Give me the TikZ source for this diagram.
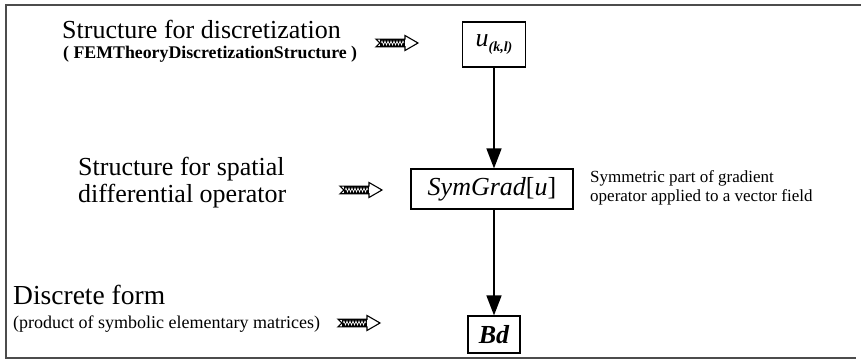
\documentclass[tikz,border=0pt]{standalone}
\usepackage{fontspec}
\setmainfont{Liberation Serif}
\usetikzlibrary{arrows.meta}
\tikzset{
  bigtext/.style={inner sep=0pt, anchor=base west, font=\fontsize{26}{28}\selectfont},
  subtext/.style={inner sep=0pt, anchor=base west, font=\fontsize{18}{20}\selectfont},
  notetext/.style={inner sep=0pt, anchor=base west, font=\fontsize{17}{19}\selectfont},
  exprbox/.style={draw, line width=1.2pt, inner sep=0pt, font=\fontsize{26}{28}\selectfont},
  flow/.style={line width=1.6pt, -{Triangle[length=20pt,width=15pt]}},
  frameline/.style={line width=1.4pt, draw=black!70},
  pics/hatch/.style={code={
    % block arrow with notched tail and a zigzag-filled shaft
    \draw[line width=1.1pt, fill=white, line join=miter]
      (-21,-3.8) -- (8,-3.8) -- (8,-7.5) -- (21,0) -- (8,7.5) -- (8,3.8)
      -- (-21,3.8) -- (-17,0) -- cycle;
    \fill (-17,-3.8) rectangle (8,3.8);
    \draw[white, line width=0.6pt]
      (-16,0) -- (-15,-2) -- (-13.5,2) -- (-12,-2) -- (-10.5,2) -- (-9,-2)
      -- (-7.5,2) -- (-6,-2) -- (-4.5,2) -- (-3,-2) -- (-1.5,2) -- (0,-2)
      -- (1.5,2) -- (3,-2) -- (4.5,2) -- (6,-2) -- (7,0);
  }}
}
\begin{document}
\begin{tikzpicture}[x=1pt, y=-1pt]
\useasboundingbox (0,0) rectangle (861,363);

% outer frame: top, left and bottom edges
\draw[frameline] (861,5) -- (6,5) -- (6,358) -- (856,358);

% left-hand descriptions
\node[bigtext] (t1) at (62,39) {Structure for discretization};
\node[inner sep=0pt, anchor=base west, font=\fontsize{17.8}{19}\selectfont\bfseries] (t1b) at (63,59) {( FEMTheoryDiscretizationStructure )};
\node[bigtext] (t2) at (78,176) {Structure for spatial};
\node[bigtext] (t2b) at (78,203) {differential operator};
\node[bigtext, font=\fontsize{27.5}{29}\selectfont] (t3) at (13,304) {Discrete form};
\node[subtext] (t3b) at (13,328) {(product of symbolic elementary matrices)};

% hatched pointers
\pic at (397,43) {hatch};
\pic at (361,190) {hatch};
\pic at (359,323) {hatch};

% expression boxes
\node[exprbox, minimum width=63pt, minimum height=45pt] (u) at (494,44.5)
  {\itshape u\raisebox{-5pt}{\fontsize{14}{14}\selectfont\bfseries(k,l)}};
\node[exprbox, minimum width=162pt, minimum height=40pt] (sg) at (492,189)
  {\itshape SymGrad\upshape[\itshape u\upshape]};
\node[exprbox, minimum width=52pt, minimum height=37pt] (bd) at (494,334.5)
  {\bfseries\itshape Bd};

% note beside the operator
\node[notetext] (note1) at (590,183) {Symmetric part of gradient};
\node[notetext] (note2) at (590,202) {operator applied to a vector field};

% flow between stages
\draw[flow] (u.south) -- (u.south |- sg.north);
\draw[flow] (sg.south -| bd.north) -- (bd.north);
\end{tikzpicture}
\end{document}
